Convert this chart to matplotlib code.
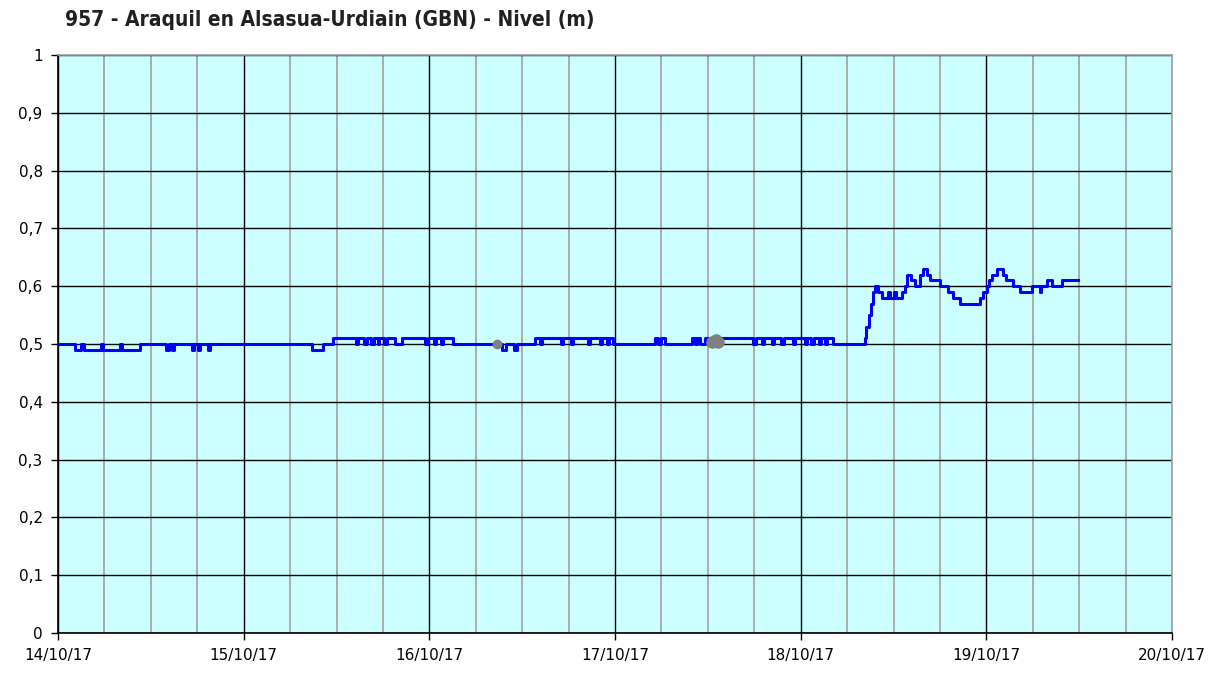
import matplotlib
matplotlib.use("Agg")
import matplotlib.pyplot as plt
from matplotlib.ticker import MultipleLocator

title = "957 - Araquil en Alsasua-Urdiain (GBN) - Nivel (m)"
x_tick_labels = ["14/10/17", "15/10/17", "16/10/17", "17/10/17", "18/10/17", "19/10/17", "20/10/17"]
y_tick_labels = ["0", "0,1", "0,2", "0,3", "0,4", "0,5", "0,6", "0,7", "0,8", "0,9", "1"]

# hours since 14/10/17 00:00 and level (m), step changes
hours = [0, 2.2, 3.0, 3.3, 5.5, 5.8, 8.0, 8.3, 10.6, 14.0, 14.4, 14.7, 15.0, 17.3, 17.6, 18.1, 18.4,
         19.4, 19.7, 32.8, 34.2,
         35.5, 38.5, 38.8, 39.6, 39.9, 40.5, 40.8, 41.3, 41.5, 42.2, 42.5, 43.5, 44.5, 47.5, 47.8,
         48.6, 48.9, 49.5, 49.8, 51.0,
         57.4, 57.9, 58.9, 59.3,
         61.6, 62.3, 62.5, 65.0, 65.3, 66.3, 66.6, 68.5, 68.8, 70.0, 70.3, 71.0, 71.2, 71.7,
         77.2, 77.6, 77.9, 78.4, 81.9, 82.3, 82.6, 83.0, 83.6, 84.0,
         85.6, 89.8, 90.2, 91.0, 91.3, 92.3, 92.6, 93.5, 93.8, 95.0, 95.3, 96.5, 96.8, 97.4, 97.7,
         98.4, 98.6, 99.2, 99.4, 100.2,
         104.3, 104.5, 104.8, 105.1, 105.4, 105.6, 106.0, 106.5, 107.3, 107.6, 108.0, 108.3, 109.1,
         109.5, 109.7, 110.3, 110.8, 111.4, 111.8, 112.3, 112.7, 114.0, 115.0, 115.7, 116.6,
         119.2, 119.6, 120.1, 120.4, 120.7, 121.4, 122.1, 122.6, 123.4, 124.3, 125.9, 126.9, 127.1,
         127.8, 128.5, 129.8, 131.8]
level = [0.50, 0.49, 0.50, 0.49, 0.50, 0.49, 0.50, 0.49, 0.50, 0.49, 0.50, 0.49, 0.50, 0.49, 0.50, 0.49, 0.50,
         0.49, 0.50, 0.49, 0.50,
         0.51, 0.50, 0.51, 0.50, 0.51, 0.50, 0.51, 0.50, 0.51, 0.50, 0.51, 0.50, 0.51, 0.50, 0.51,
         0.50, 0.51, 0.50, 0.51, 0.50,
         0.49, 0.50, 0.49, 0.50,
         0.51, 0.50, 0.51, 0.50, 0.51, 0.50, 0.51, 0.50, 0.51, 0.50, 0.51, 0.50, 0.51, 0.50,
         0.51, 0.50, 0.51, 0.50, 0.51, 0.50, 0.51, 0.50, 0.51, 0.50,
         0.51, 0.50, 0.51, 0.50, 0.51, 0.50, 0.51, 0.50, 0.51, 0.50, 0.51, 0.50, 0.51, 0.50, 0.51,
         0.50, 0.51, 0.50, 0.51, 0.50,
         0.51, 0.53, 0.55, 0.57, 0.59, 0.60, 0.59, 0.58, 0.59, 0.58, 0.59, 0.58, 0.59,
         0.60, 0.62, 0.61, 0.60, 0.62, 0.63, 0.62, 0.61, 0.60, 0.59, 0.58, 0.57,
         0.58, 0.59, 0.60, 0.61, 0.62, 0.63, 0.62, 0.61, 0.60, 0.59, 0.60, 0.59, 0.60,
         0.61, 0.60, 0.61, 0.61]

gray_hours = [56.7, 84.6, 85.0, 85.3]
gray_level = [0.50, 0.503, 0.507, 0.503]
gray_sizes = [6, 8, 8, 8]

fig = plt.figure(figsize=(12.32, 6.73), dpi=100)
ax = fig.add_axes([58/1232, 1-633/673, (1172-58)/1232, (633-55)/673])
ax.set_facecolor("#CCFFFF")

ax.set_xlim(0, 144)
ax.set_ylim(0, 1)
ax.xaxis.set_major_locator(MultipleLocator(24))
ax.xaxis.set_minor_locator(MultipleLocator(6))
ax.yaxis.set_major_locator(MultipleLocator(0.1))
ax.grid(which="major", axis="both", color="black", linewidth=1.0)
ax.grid(which="minor", axis="x", color="#A0A0A0", linewidth=1.2)
ax.set_axisbelow(True)

ax.plot(hours, level, drawstyle="steps-post", color="#0000FF", linewidth=2.2, zorder=3)
for gh, gl, gs in zip(gray_hours, gray_level, gray_sizes):
    ax.plot([gh], [gl], linestyle="none", marker="o", markersize=gs, color="#808080", zorder=4)

ax.set_xticks([24 * i for i in range(len(x_tick_labels))])
ax.set_xticklabels(x_tick_labels)
ax.set_yticks([i / 10 for i in range(len(y_tick_labels))])
ax.set_yticklabels(y_tick_labels)
ax.tick_params(axis="both", which="major", direction="out", length=5, width=1, colors="black",
               labelsize=11, pad=6)
ax.tick_params(axis="x", which="minor", length=0)
for lab in ax.get_xticklabels() + ax.get_yticklabels():
    lab.set_family("DejaVu Sans")

for side in ["left", "bottom"]:
    ax.spines[side].set_color("black")
    ax.spines[side].set_linewidth(1.2)
for side in ["top", "right"]:
    ax.spines[side].set_color("#A0A0A0")
    ax.spines[side].set_linewidth(1.2)

fig.text(65/1232, 1-20/673, title, ha="left", va="center", fontsize=15, fontweight="bold",
         family="DejaVu Sans", fontstretch="condensed", color="#202020")

fig.savefig("out.png", dpi=100, facecolor="white")
